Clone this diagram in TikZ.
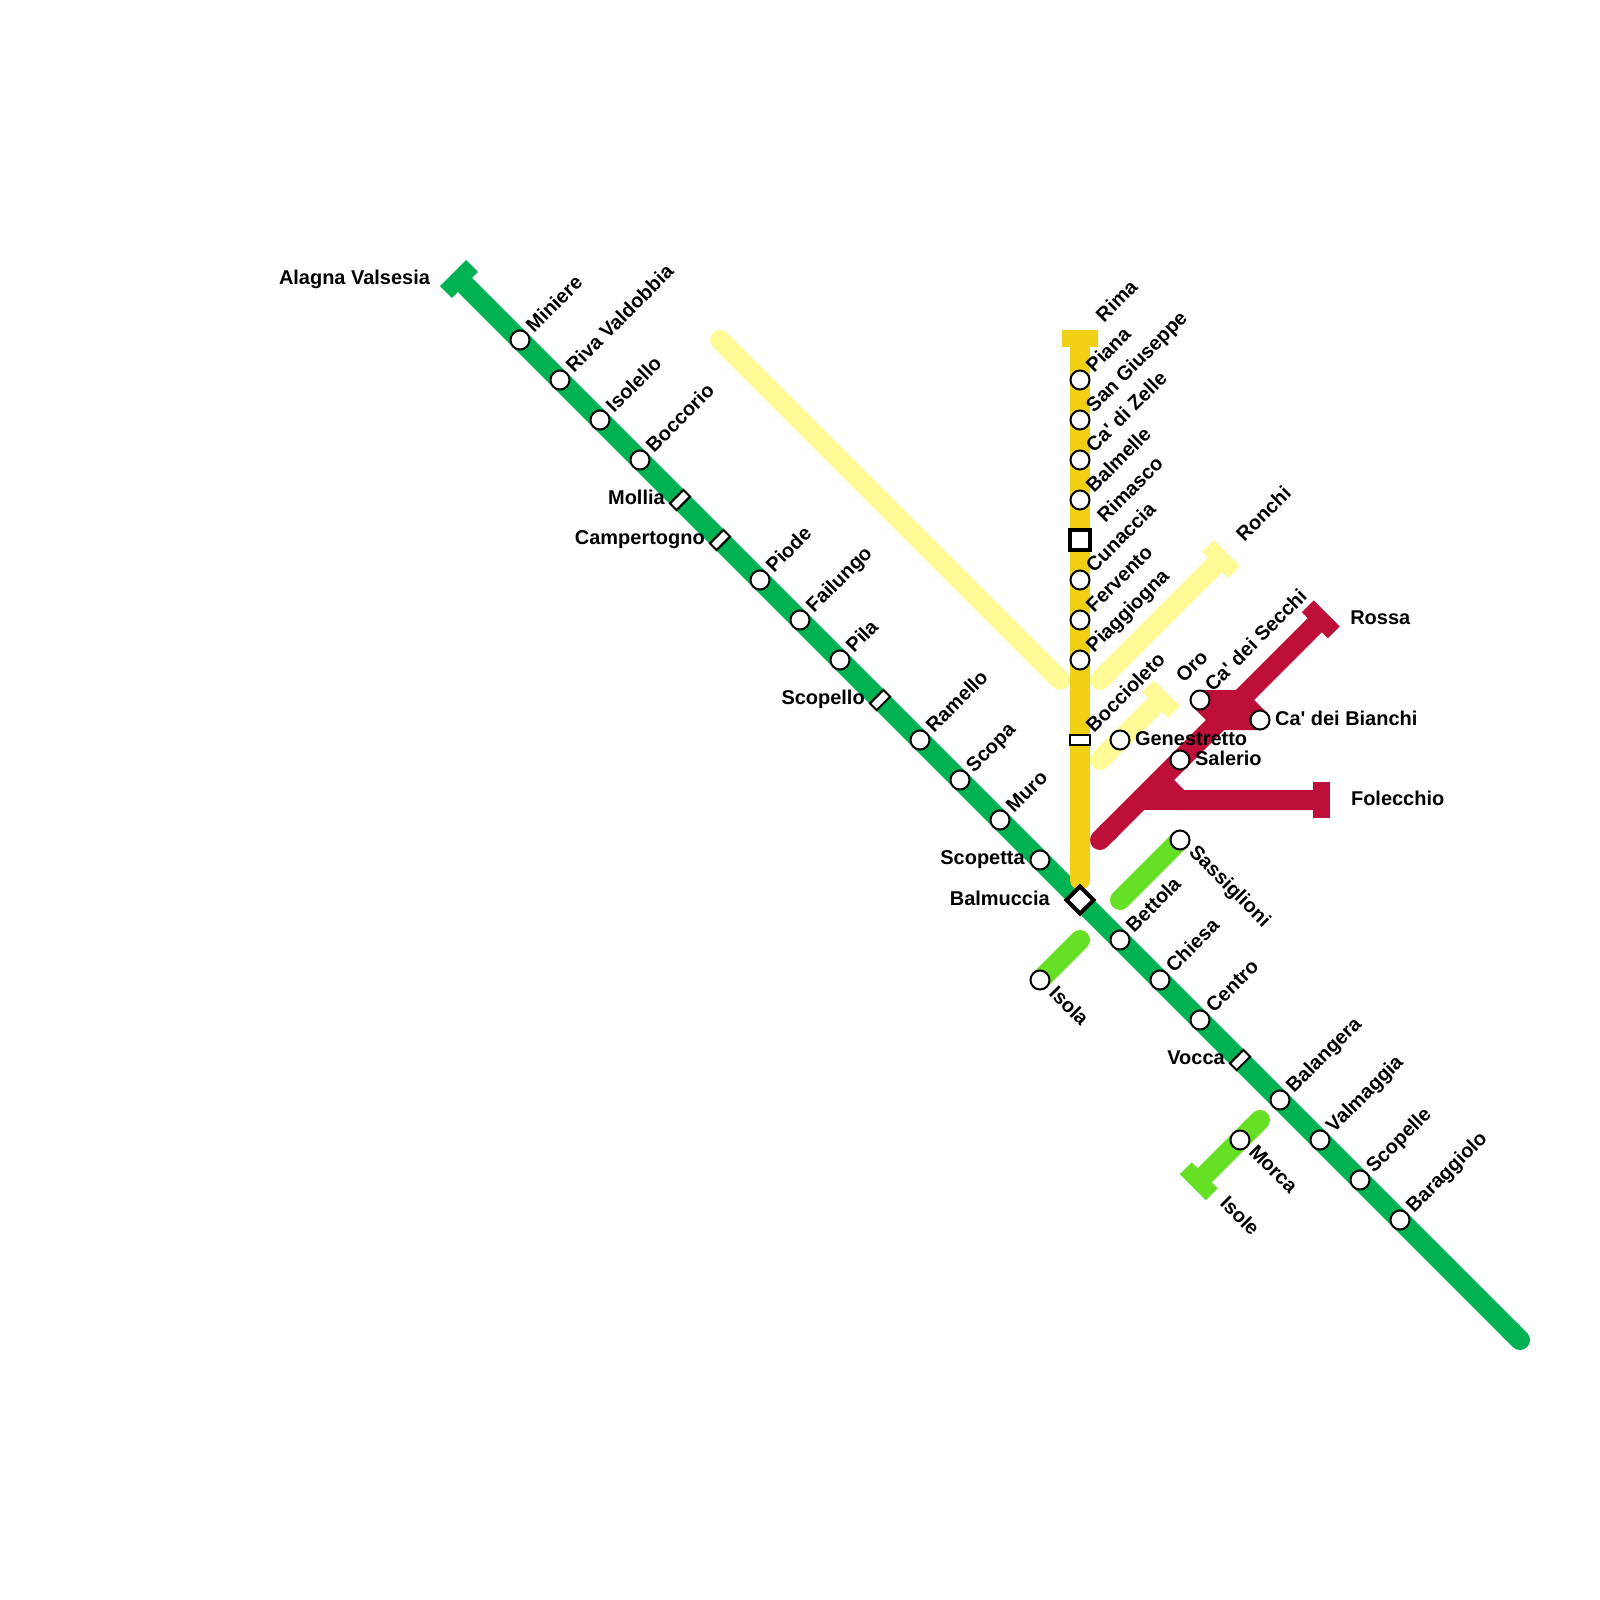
\documentclass[tikz,border=0pt]{standalone}
\usepackage{fontspec}
\setmainfont{Liberation Sans}
\definecolor{linegreen}{rgb}{0.00,0.70,0.32}
\definecolor{lineyellow}{rgb}{0.94,0.81,0.08}
\definecolor{linepale}{rgb}{1.00,0.98,0.59}
\definecolor{linered}{rgb}{0.74,0.06,0.22}
\definecolor{linelime}{rgb}{0.40,0.88,0.14}
\usetikzlibrary{arrows.meta,positioning,backgrounds}

\begin{document}
\begin{tikzpicture}[x=1cm, y=-1cm, on grid,
      stn/.style={draw, circle, fill=white, line width=0.05cm, minimum size=0.475cm, inner sep=0pt},
      rstn/.style={draw, rectangle, fill=white, line width=0.05cm, minimum width=0.48cm, minimum height=0.235cm, inner sep=0pt},
      xstn/.style={draw, rectangle, fill=white, line width=0.1cm, minimum size=0.48cm, inner sep=0pt},
      endbar/.style={rectangle, minimum width=0.92cm, minimum height=0.42cm, inner sep=0pt},
      lin/.style={line width=0.5cm},
      rcap/.style={-{Round Cap}, shorten >=-0.25cm},
      lab/.style={font=\fontsize{14.2}{16}\selectfont\bfseries, inner sep=0pt},
      lne/.style={lab, anchor=base west, rotate=45},
      lse/.style={lab, anchor=base west, rotate=-45},
      lw/.style={lab, anchor=base east},
      le/.style={lab, anchor=base west}
  ]
    \useasboundingbox (0,0) rectangle (40,40);
    % main line
    \node[endbar, fill=linegreen, rotate=45] (alagna) at (11.475,6.975) {};
    \node[stn] (miniere) at (13,8.5) {};
    \node[stn, below right=1cm and 1cm of miniere]  (riva) {};
    \node[stn, below right=1cm and 1cm of riva]     (isolello) {};
    \node[stn, below right=1cm and 1cm of isolello] (boccorio) {};
    \node[rstn, rotate=45, below right=1cm and 1cm of boccorio] (mollia) {};
    \node[rstn, rotate=45, below right=1cm and 1cm of mollia]   (campertogno) {};
    \node[stn, below right=1cm and 1cm of campertogno] (piode) {};
    \node[stn, below right=1cm and 1cm of piode]    (failungo) {};
    \node[stn, below right=1cm and 1cm of failungo] (pila) {};
    \node[rstn, rotate=45, below right=1cm and 1cm of pila] (scopello) {};
    \node[stn, below right=1cm and 1cm of scopello] (ramello) {};
    \node[stn, below right=1cm and 1cm of ramello]  (scopa) {};
    \node[stn, below right=1cm and 1cm of scopa]    (muro) {};
    \node[stn, below right=1cm and 1cm of muro]     (scopetta) {};
    \node[xstn, rotate=45, below right=1cm and 1cm of scopetta] (balmuccia) {};
    \node[stn, below right=1cm and 1cm of balmuccia] (bettola) {};
    \node[stn, below right=1cm and 1cm of bettola]  (chiesa) {};
    \node[stn, below right=1cm and 1cm of chiesa]   (centro) {};
    \node[rstn, rotate=45, below right=1cm and 1cm of centro] (vocca) {};
    \node[stn, below right=1cm and 1cm of vocca]    (balangera) {};
    \node[stn, below right=1cm and 1cm of balangera] (valmaggia) {};
    \node[stn, below right=1cm and 1cm of valmaggia] (scopelle) {};
    \node[stn, below right=1cm and 1cm of scopelle] (baraggiolo) {};
    \coordinate (greenend) at (38,33.5);
    % vertical line
    \node[endbar, fill=lineyellow] (rima) at (27,8.46) {};
    \node[stn] (piana) at (27,9.5) {};
    \node[stn, below=1cm of piana]    (giuseppe) {};
    \node[stn, below=1cm of giuseppe] (zelle) {};
    \node[stn, below=1cm of zelle]    (balmelle) {};
    \node[xstn, below=1cm of balmelle] (rimasco) {};
    \node[stn, below=1cm of rimasco]  (cunaccia) {};
    \node[stn, below=1cm of cunaccia] (fervento) {};
    \node[stn, below=1cm of fervento] (piaggiogna) {};
    \node[rstn, below=2cm of piaggiogna] (boccioleto) {};
    \coordinate (yellowend) at (27,22);
    % pale lines
    \coordinate (palea) at (18,8.5);
    \coordinate (paleb) at (26.5,17);
    \coordinate (palec) at (27.5,17);
    \coordinate (paled) at (27.5,19);
    \node[endbar, fill=linepale, rotate=-45] (ronchi) at (30.525,13.975) {};
    \node[endbar, fill=linepale, rotate=-45] (oro) at (29.025,17.475) {};
    \node[stn] (genestretto) at (28,18.5) {};
    % red line
    \node[endbar, fill=linered, rotate=-45] (rossa) at (33.02,15.48) {};
    \node[endbar, fill=linered, rotate=90] (folecchio) at (33.04,20) {};
    \node[stn] (secchi) at (30,17.5) {};
    \node[stn] (bianchi) at (31.5,18) {};
    \node[stn] (salerio) at (29.5,19) {};
    \coordinate (redend) at (27.5,21);
    \coordinate (redtop) at (31,17.5);
    \coordinate (redlow) at (30.5,18);
    \coordinate (redbend) at (29.5,20);
    \coordinate (redfork) at (29,19.5);
    \coordinate (redleft) at (28.5,20);
    % lime lines
    \node[stn] (sassiglioni) at (29.5,21) {};
    \node[stn] (isola) at (26,24.5) {};
    \node[stn] (morca) at (31,28.5) {};
    \node[endbar, fill=linelime, rotate=-45] (isole) at (29.97,29.53) {};
    \coordinate (limea) at (28,22.5);
    \coordinate (limeb) at (27,23.5);
    \coordinate (limec) at (31.5,28);
    % labels
    \node[left=0.72cm of alagna.center, lw, yshift=-0.13cm] (talagna) {Alagna Valsesia};
    \node[above right=0.16cm and 0.35cm of miniere.center, lne]  (tminiere) {Miniere};
    \node[above right=0.16cm and 0.35cm of riva.center, lne]     (triva) {Riva Valdobbia};
    \node[above right=0.16cm and 0.35cm of isolello.center, lne] (tisolello) {Isolello};
    \node[above right=0.16cm and 0.35cm of boccorio.center, lne] (tboccorio) {Boccorio};
    \node[left=0.375cm of mollia.center, lw, yshift=-0.12cm]      (tmollia) {Mollia};
    \node[left=0.375cm of campertogno.center, lw, yshift=-0.12cm] (tcampertogno) {Campertogno};
    \node[above right=0.16cm and 0.35cm of piode.center, lne]    (tpiode) {Piode};
    \node[above right=0.16cm and 0.35cm of failungo.center, lne] (tfailungo) {Failungo};
    \node[above right=0.16cm and 0.35cm of pila.center, lne]     (tpila) {Pila};
    \node[left=0.375cm of scopello.center, lw, yshift=-0.12cm]    (tscopello) {Scopello};
    \node[above right=0.16cm and 0.35cm of ramello.center, lne]  (tramello) {Ramello};
    \node[above right=0.16cm and 0.35cm of scopa.center, lne]    (tscopa) {Scopa};
    \node[above right=0.16cm and 0.35cm of muro.center, lne]     (tmuro) {Muro};
    \node[left=0.375cm of scopetta.center, lw, yshift=-0.12cm]    (tscopetta) {Scopetta};
    \node[left=0.75cm of balmuccia.center, lw, yshift=-0.13cm]  (tbalmuccia) {Balmuccia};
    \node[above right=0.16cm and 0.35cm of bettola.center, lne]  (tbettola) {Bettola};
    \node[above right=0.16cm and 0.35cm of chiesa.center, lne]   (tchiesa) {Chiesa};
    \node[above right=0.16cm and 0.35cm of centro.center, lne]   (tcentro) {Centro};
    \node[left=0.375cm of vocca.center, lw, yshift=-0.12cm]       (tvocca) {Vocca};
    \node[above right=0.16cm and 0.35cm of balangera.center, lne] (tbalangera) {Balangera};
    \node[above right=0.16cm and 0.35cm of valmaggia.center, lne] (tvalmaggia) {Valmaggia};
    \node[above right=0.16cm and 0.35cm of scopelle.center, lne] (tscopelle) {Scopelle};
    \node[above right=0.16cm and 0.35cm of baraggiolo.center, lne] (tbaraggiolo) {Baraggiolo};
    \node[above right=0.38cm and 0.6cm of rima.center, lne]     (trima) {Rima};
    \node[above right=0.16cm and 0.35cm of piana.center, lne]    (tpiana) {Piana};
    \node[above right=0.16cm and 0.35cm of giuseppe.center, lne] (tgiuseppe) {San Giuseppe};
    \node[above right=0.16cm and 0.35cm of zelle.center, lne]    (tzelle) {Ca\textquotesingle{} di Zelle};
    \node[above right=0.16cm and 0.35cm of balmelle.center, lne] (tbalmelle) {Balmelle};
    \node[above right=0.4cm and 0.63cm of rimasco.center, lne]  (trimasco) {Rimasco};
    \node[above right=0.16cm and 0.35cm of cunaccia.center, lne] (tcunaccia) {Cunaccia};
    \node[above right=0.16cm and 0.35cm of fervento.center, lne] (tfervento) {Fervento};
    \node[above right=0.16cm and 0.35cm of piaggiogna.center, lne] (tpiaggiogna) {Piaggiogna};
    \node[above right=0.16cm and 0.35cm of boccioleto.center, lne] (tboccioleto) {Boccioleto};
    \node[above right=0.4cm and 0.58cm of ronchi.center, lne]   (tronchi) {Ronchi};
    \node[above right=0.38cm and 0.57cm of oro.center, lne]      (toro) {Oro};
    \node[above right=0.18cm and 0.32cm of secchi.center, lne]  (tsecchi) {Ca\textquotesingle{} dei Secchi};
    \node[below right=0.13cm and 0.37cm of bianchi.center, le]   (tbianchi) {Ca\textquotesingle{} dei Bianchi};
    \node[below right=0.13cm and 0.37cm of genestretto.center, le] (tgenestretto) {Genestretto};
    \node[below right=0.13cm and 0.37cm of salerio.center, le]   (tsalerio) {Salerio};
    \node[below right=0.13cm and 0.73cm of rossa.center, le]     (trossa) {Rossa};
    \node[below right=0.13cm and 0.73cm of folecchio.center, le] (tfolecchio) {Folecchio};
    \node[below right=0.33cm and 0.2cm of sassiglioni.center, lse] (tsassiglioni) {Sassiglioni};
    \node[below right=0.36cm and 0.2cm of isola.center, lse]   (tisola) {Isola};
    \node[below right=0.32cm and 0.19cm of morca.center, lse]   (tmorca) {Morca};
    \node[below right=0.58cm and 0.5cm of isole.center, lse]     (tisole) {Isole};
    % connectors
    \begin{scope}[on background layer]
      \draw[lin, linepale, line cap=round] (palea) -- (paleb);
      \draw[lin, linepale, rcap] (ronchi.center) -- (palec);
      \draw[lin, linepale, rcap] (oro.center) -- (paled);
      \draw[lin, linegreen, rcap] (alagna.center) -- (greenend);
      \draw[lin, lineyellow, rcap] (rima.center) -- (yellowend);
      \draw[lin, linered, rcap] (rossa.center) -- (redend);
      \draw[lin, linered] (folecchio.center) -- (redbend) -- (redfork);
      \draw[lin, linered] (redbend) -- (redleft);
      \draw[lin, linered] (secchi.center) -- (redtop) -- (bianchi.center);
      \draw[lin, linered] (secchi.center) -- (redlow) -- (bianchi.center);
      \draw[lin, linelime, line cap=round] (limea) -- (sassiglioni.center);
      \draw[lin, linelime, line cap=round] (limeb) -- (isola.center);
      \draw[lin, linelime, rcap] (isole.center) -- (limec);
    \end{scope}
  \end{tikzpicture}
\end{document}
